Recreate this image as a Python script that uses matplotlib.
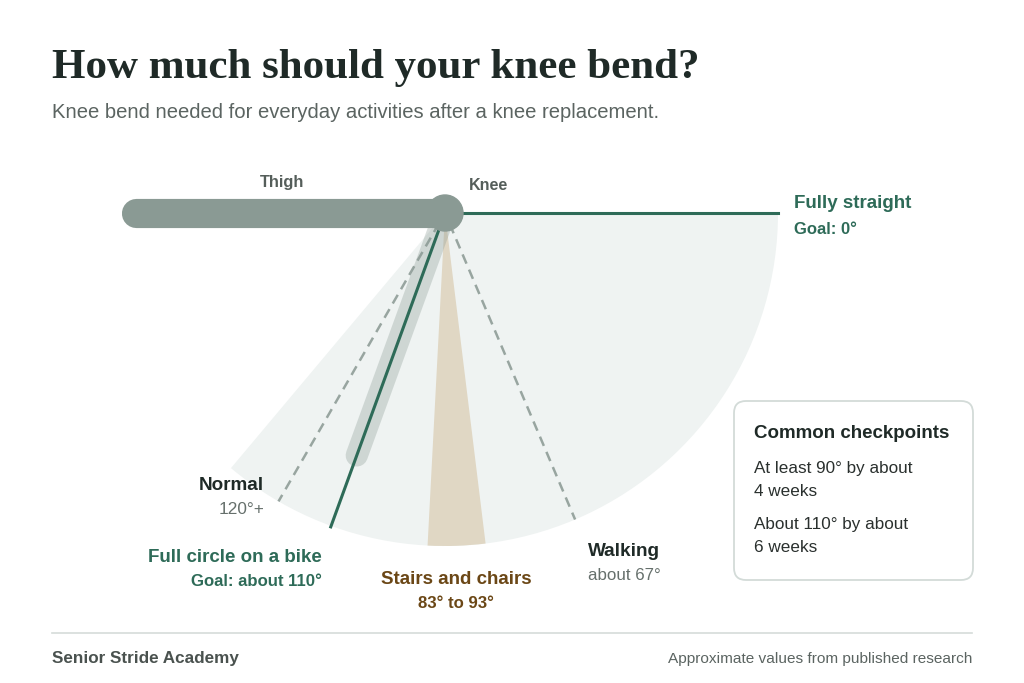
import numpy as np
import matplotlib as mpl
mpl.use('Agg')
from matplotlib import pyplot as plt
from matplotlib.patches import Wedge, Circle, FancyBboxPatch

# bend angles in degrees (0 = straight)
FAN_MAX = 130
STRAIGHT = 0
WALKING = 67
STAIRS = [83, 93]
BIKE = 110
NORMAL = 120
SHADOW_LEN = 258     # length of the ghost shin at the bike angle

checkpoints = [["At least 90° by about", "4 weeks"], ["About 110° by about", "6 weeks"]]

GREEN = '#2e6b58'
DARK = '#1f2a27'
GREY = '#66706c'
BROWN = '#6b4716'
LIMB = '#8a9a94'

plt.rcParams['font.family'] = ['Liberation Sans', 'DejaVu Sans']

fig = plt.figure(figsize=(10.24, 6.83), dpi=100)
ax = fig.add_axes([0, 0, 1, 1])
ax.set_xlim(0, 1024)
ax.set_ylim(683, 0)
ax.axis('off')

cx, cy, R = 445, 213, 333
dy = 2  # small nudge so text centres sit like the reference


def pt(angle, r):
    a = np.radians(angle)
    return cx + r * np.cos(a), cy + r * np.sin(a)


# range fan
ax.add_patch(Wedge((cx, cy), R, STRAIGHT, FAN_MAX, facecolor='#eff3f2', edgecolor='none', zorder=1))
# stairs band
ax.add_patch(Wedge((cx, cy), R, STAIRS[0], STAIRS[1], facecolor='#e0d7c4', edgecolor='none', zorder=2))

# dashed reference lines
for ang in [WALKING, NORMAL]:
    x0, y0 = pt(ang, 12)
    x1, y1 = pt(ang, R)
    ax.plot([x0, x1], [y0, y1], color='#98a5a0', lw=1.8, ls=(0, (4, 2.6)), zorder=3)

# ghost shin
x1, y1 = pt(BIKE, SHADOW_LEN)
ax.plot([cx, x1], [cy, y1], color=LIMB, alpha=0.32, lw=16, solid_capstyle='round', zorder=3)

# bike line and straight line
x1, y1 = pt(BIKE, R + 1)
ax.plot([cx, x1], [cy, y1], color=GREEN, lw=2.2, zorder=4)
x1, y1 = pt(STRAIGHT, R)
ax.plot([cx, x1], [cy, y1], color=GREEN, lw=2.2, zorder=4)

# thigh + knee
ax.plot([136, cx], [cy, cy], color=LIMB, lw=21, solid_capstyle='round', zorder=5)
ax.add_patch(Circle((cx, cy), 18, color=LIMB, zorder=6))

ax.text(282, 180 + dy, 'Thigh', ha='center', va='center', fontsize=11.8, fontweight='bold', color='#555e5a')
ax.text(489, 183 + dy, 'Knee', ha='center', va='center', fontsize=11.5, fontweight='bold', color='#555e5a')

# labels
ax.text(794, 202 + dy, 'Fully straight', ha='left', va='center', fontsize=13.5, fontweight='bold', color=GREEN)
ax.text(794, 227 + dy, 'Goal: 0°', ha='left', va='center', fontsize=12, fontweight='bold', color=GREEN)

ax.text(264, 484 + dy, 'Normal', ha='right', va='center', fontsize=13.6, fontweight='bold', color=DARK)
ax.text(264, 507 + dy, '120°+', ha='right', va='center', fontsize=12.4, color=GREY)

ax.text(322, 556 + dy, 'Full circle on a bike', ha='right', va='center', fontsize=13.5, fontweight='bold', color=GREEN)
ax.text(322, 579 + dy, 'Goal: about 110°', ha='right', va='center', fontsize=12.1, fontweight='bold', color=GREEN)

ax.text(456, 578 + dy, 'Stairs and chairs', ha='center', va='center', fontsize=13.5, fontweight='bold', color=BROWN)
ax.text(456, 601 + dy, '83° to 93°', ha='center', va='center', fontsize=12.1, fontweight='bold', color=BROWN)

ax.text(588, 549 + dy, 'Walking', ha='left', va='center', fontsize=13.7, fontweight='bold', color=DARK)
ax.text(588, 573 + dy, 'about 67°', ha='left', va='center', fontsize=12.2, color=GREY)

# checkpoint box
ax.add_patch(FancyBboxPatch((734, 401), 239, 179, boxstyle='round,pad=0,rounding_size=12',
                            facecolor='white', edgecolor='#d3dbd8', lw=1.3, zorder=7))
ax.text(754, 431 + dy, 'Common checkpoints', ha='left', va='center', fontsize=13.5, fontweight='bold',
        color=DARK, zorder=8)
for i, lines in enumerate(checkpoints):
    for j, txt in enumerate(lines):
        ax.text(754, 467 + dy + i * 56 + j * 22, txt, ha='left', va='center', fontsize=12.3,
                color='#2a302e', zorder=8)

# title block
ax.text(52, 68, 'How much should your knee bend?', ha='left', va='center', fontsize=31,
        fontweight='bold', family='Liberation Serif', color=DARK)
ax.text(52, 111 + dy, 'Knee bend needed for everyday activities after a knee replacement.', ha='left',
        va='center', fontsize=14.6, color='#5b6461')

# footer
ax.plot([52, 972], [633, 633], color='#d5dcd9', lw=1.2)
ax.text(52, 657 + dy, 'Senior Stride Academy', ha='left', va='center', fontsize=12.3, fontweight='bold',
        color='#4a524f')
ax.text(972, 657 + dy, 'Approximate values from published research', ha='right', va='center', fontsize=11.1,
        color='#5b6461')

fig.savefig('out.png', dpi=100)
